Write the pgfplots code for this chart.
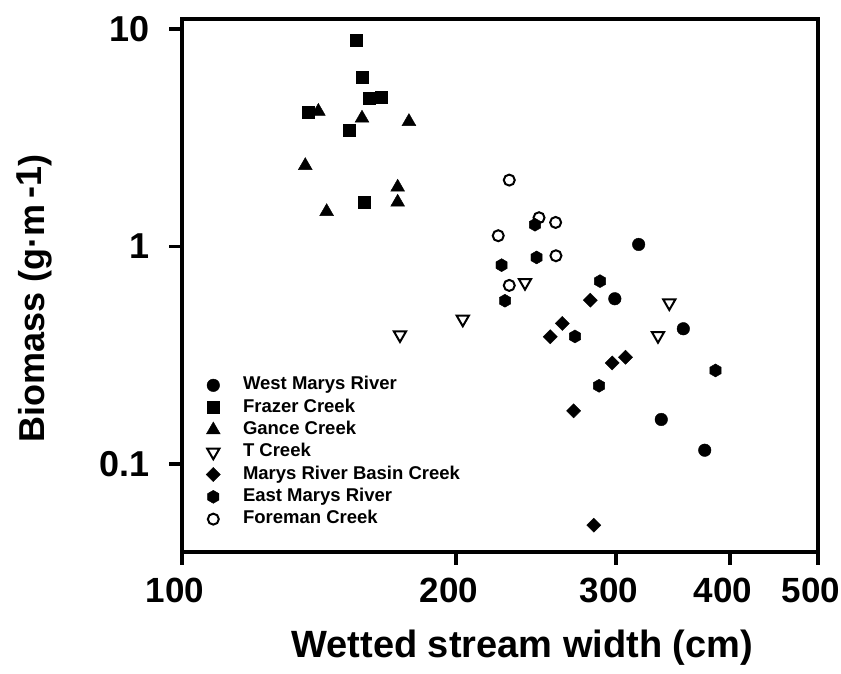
\documentclass[border=0pt]{standalone}
\usepackage{fontspec}
\setmainfont{Liberation Sans}
\usepackage{pgfplots}
\pgfplotsset{compat=1.18}

% filled hexagon used for East Marys River
\pgfdeclareplotmark{hexagon*}{%
  \pgfpathmoveto{\pgfpointpolar{90}{\pgfplotmarksize}}%
  \pgfpathlineto{\pgfpointpolar{150}{\pgfplotmarksize}}%
  \pgfpathlineto{\pgfpointpolar{210}{\pgfplotmarksize}}%
  \pgfpathlineto{\pgfpointpolar{270}{\pgfplotmarksize}}%
  \pgfpathlineto{\pgfpointpolar{330}{\pgfplotmarksize}}%
  \pgfpathlineto{\pgfpointpolar{30}{\pgfplotmarksize}}%
  \pgfpathclose
  \pgfusepathqfillstroke}

\begin{document}
\begin{tikzpicture}
\useasboundingbox (-182pt,-121pt) rectangle (659pt,552pt);
\begin{axis}[
    scale only axis,
    width=636pt, height=533pt,
    xmode=log, ymode=log,
    xmin=100, xmax=500,
    ymin=0.0394, ymax=11.1,
    xtick={100,200,300,400,500},
    xticklabels={100,200,300,400,500},
    ytick={0.1,1,10},
    yticklabels={0.1,1,10},
    minor tick style={draw=none},
    tick align=outside,
    tick pos=left,
    major tick length=13pt,
    every tick/.style={black, line width=3.8pt},
    axis line style={line width=3.8pt},
    x tick label style={font=\fontsize{35}{40}\selectfont\bfseries,
        xshift=-7pt, yshift=-10pt},
    y tick label style={font=\fontsize{36}{40}\selectfont\bfseries,
        xshift=-16pt},
    xlabel={Wetted stream width (cm)},
    ylabel={Biomass (g·m\,\raisebox{0.2ex}{-1})},
    xlabel style={font=\fontsize{38}{40}\selectfont\bfseries,
        at={(axis description cs:0.535,-0.18)}, anchor=center},
    ylabel style={font=\fontsize{36}{40}\selectfont\bfseries,
        at={(axis description cs:-0.232,0.475)}, anchor=center, rotate=0},
    legend style={at={(axis description cs:0.036,0.334)}, anchor=north west,
        draw=none, fill=none, inner sep=0pt,
        font=\fontsize{18.5}{20}\selectfont\bfseries,
        nodes={text height=13.3pt, text depth=4pt, inner sep=2.5pt}},
    legend cell align=left,
    legend image code/.code={\draw[#1] plot coordinates {(0pt,0pt)};
        \path (-8pt,0pt) (27pt,0pt);},
]
% West Marys River
\addplot[black, only marks, mark=*, mark size=6.3pt] coordinates {
    (317.6,1.021) (299.0,0.5747) (355.6,0.4184) (336.3,0.1602) (375.4,0.1157)
};
% Frazer Creek
\addplot[black, only marks, mark=square*, mark size=6pt] coordinates {
    (155.3,8.83) (157.7,5.965) (160.6,4.776) (165.6,4.843)
    (137.5,4.132) (152.5,3.404) (158.6,1.594)
};
% Gance Creek
\addplot[black, only marks, mark=triangle*, mark size=8pt] coordinates {
    (141.2,4.175) (157.7,3.886) (177.6,3.748) (136.6,2.352)
    (172.6,1.872) (172.6,1.597) (144.2,1.445)
};
% T Creek
\addplot[black, only marks, mark=triangle, mark size=7pt,
    mark options={rotate=180, line width=2pt}] coordinates {
    (173.6,0.3918) (203.5,0.4627) (238.2,0.6817) (343.2,0.5497) (333.5,0.3889)
};
% Marys River Basin Creek
\addplot[black, only marks, mark=square*, mark size=5pt,
    mark options={rotate=45}] coordinates {
    (281.0,0.5663) (261.8,0.4426) (253.9,0.3844) (297.0,0.2913)
    (307.2,0.3097) (269.4,0.1756) (283.5,0.05233)
};
% East Marys River
\addplot[black, only marks, mark=hexagon*, mark size=6.5pt] coordinates {
    (244.3,1.258) (245.3,0.890) (224.5,0.8202) (226.4,0.5628)
    (288.0,0.6925) (270.3,0.3857) (287.3,0.2288) (385.8,0.2691)
};
% Foreman Creek
\addplot[black, only marks, mark=o, mark size=5.5pt,
    mark options={line width=2pt}] coordinates {
    (228.9,2.018) (246.8,1.355) (257.4,1.289) (222.6,1.120)
    (257.6,0.906) (228.9,0.662)
};
\legend{West Marys River, Frazer Creek, Gance Creek, T Creek,
    Marys River Basin Creek, East Marys River, Foreman Creek}
\end{axis}
\end{tikzpicture}
\end{document}
